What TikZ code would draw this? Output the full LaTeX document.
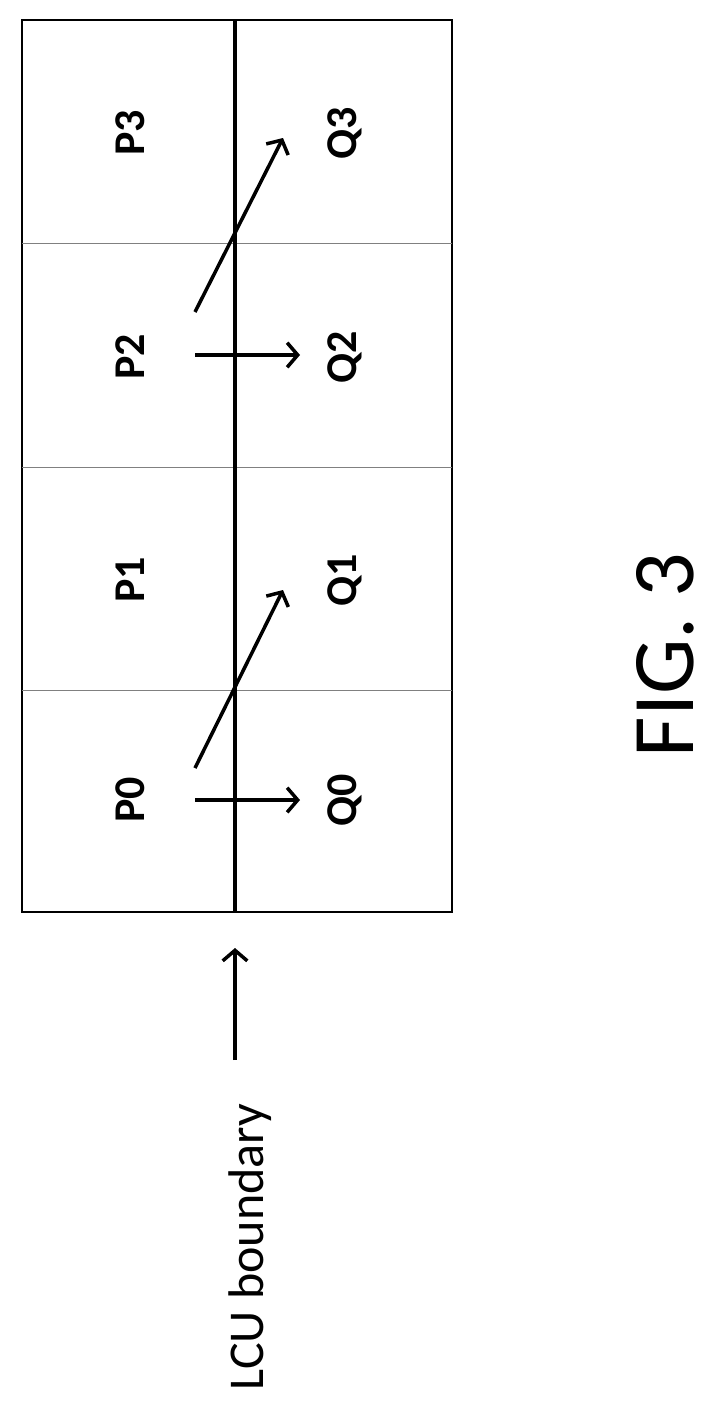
\documentclass[tikz,border=0pt]{standalone}
\usepackage{fontspec}
\setmainfont{Carlito}
\usetikzlibrary{arrows.meta,calc}
\tikzset{cell label/.style={rotate=90,font=\fontsize{25}{25}\selectfont\bfseries},
	mv arrow/.style={-{Straight Barb[length=6pt,width=14pt]},line width=2pt}}
\begin{document}
\begin{tikzpicture}[x=0.02cm,y=-0.02cm]
	\useasboundingbox (0,0) rectangle (713,1413);
	
	\draw[line width=0.8pt] (22,20) rectangle (452,912);
	\draw[very thin,gray] (22,243) -- (452,243);
	\draw[very thin,gray] (22,467) -- (452,467);
	\draw[very thin,gray] (22,690) -- (452,690);
	\draw[line width=1.8pt] (235,20) -- (235,912);
	
	\node[cell label] (p0) at (130,800) {P0};
	\node[cell label] (q0) at (345,800) {Q0};
	\node[cell label] (p1) at (130,580) {P1};
	\node[cell label] (q1) at (345,580) {Q1};
	\node[cell label] (p2) at (130,357) {P2};
	\node[cell label] (q2) at (345,357) {Q2};
	\node[cell label] (p3) at (130,133) {P3};
	\node[cell label] (q3) at (345,133) {Q3};
	
	\coordinate (a0) at (195,800);
	\coordinate (b0) at (300,800);
	\coordinate (a1) at (195,768);
	\coordinate (b1) at (283,590);
	\coordinate (a2) at (195,355);
	\coordinate (b2) at (300,355);
	\coordinate (a3) at (195,312);
	\coordinate (b3) at (283,138);
	\draw[mv arrow] (a0) -- (b0);
	\draw[mv arrow] (a1) -- (b1);
	\draw[mv arrow] (a2) -- (b2);
	\draw[mv arrow] (a3) -- (b3);
	
	\node[rotate=90,font=\fontsize{28.5}{28.5}\selectfont] (lcu) at (250,1247) {LCU boundary};
	\coordinate (lcuend) at (235,1060);
	\coordinate (lcutip) at (235,948);
	\draw[mv arrow] (lcuend) -- (lcutip);
	
	\node[rotate=90,font=\fontsize{50}{50}\selectfont] (fig) at (665,655) {FIG. 3};
\end{tikzpicture}
\end{document}
